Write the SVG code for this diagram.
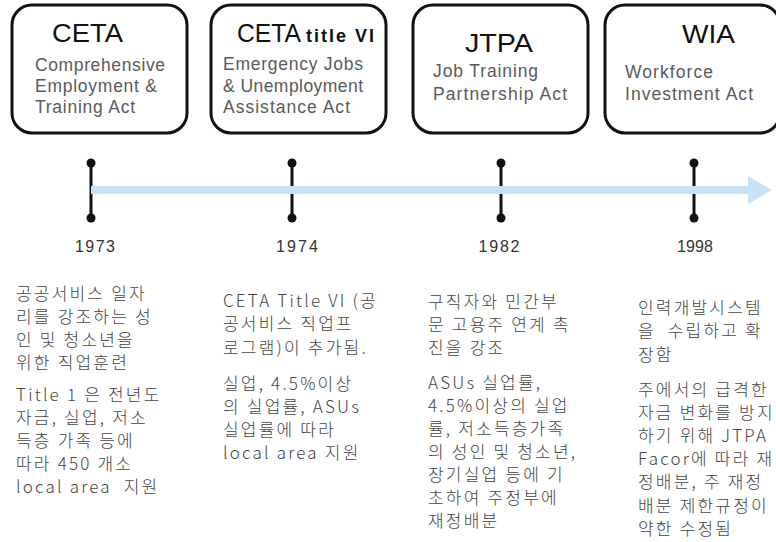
<svg xmlns="http://www.w3.org/2000/svg" width="776" height="542" viewBox="0 0 776 542">
  <style>
    .box { fill: #ffffff; stroke: #111111; stroke-width: 3; }
    .title { font-family: "Liberation Sans", Arial, sans-serif; font-size: 26px; fill: #111111; }
    .title-sm { font-family: "Liberation Sans", Arial, sans-serif; font-size: 18px; font-weight: bold; fill: #111111; }
    .sub { font-family: "Liberation Sans", Arial, sans-serif; font-size: 17.5px; fill: #5a5a5a; }
    .year { font-family: "Liberation Sans", Arial, sans-serif; font-size: 16px; fill: #333333; text-anchor: middle; }
    .desc { font-family: "Noto Sans CJK KR", "Liberation Sans", sans-serif; font-size: 17px; font-weight: 300; fill: #454545; letter-spacing: 2.2px; white-space: pre; }
    .tick { stroke: #111111; stroke-width: 3; }
    .dot { fill: #111111; }
    .bar { fill: #c8e2f7; }
  </style>

  <!-- Act boxes -->
  <g id="node-ceta">
    <rect class="box" x="12" y="5" width="175" height="128" rx="20"/>
    <text class="title" x="52" y="42" textLength="71" lengthAdjust="spacingAndGlyphs">CETA</text>
    <text class="sub" x="35" y="71" textLength="130">Comprehensive</text>
    <text class="sub" x="35" y="92" textLength="122">Employment &amp;</text>
    <text class="sub" x="35" y="113" textLength="100">Training Act</text>
  </g>

  <g id="node-ceta-title-vi">
    <rect class="box" x="211" y="5" width="175" height="128" rx="20"/>
    <text class="title" x="237" y="42" textLength="64" lengthAdjust="spacingAndGlyphs">CETA</text>
    <text class="title-sm" x="306" y="42" textLength="68">title VI</text>
    <text class="sub" x="223" y="70" textLength="140">Emergency Jobs</text>
    <text class="sub" x="223" y="92" textLength="140">&amp; Unemployment</text>
    <text class="sub" x="223" y="113" textLength="127">Assistance Act</text>
  </g>

  <g id="node-jtpa">
    <rect class="box" x="413" y="5" width="175" height="128" rx="20"/>
    <text class="title" x="465" y="52" textLength="68" lengthAdjust="spacingAndGlyphs">JTPA</text>
    <text class="sub" x="433" y="77" textLength="105">Job Training</text>
    <text class="sub" x="433" y="100" textLength="134">Partnership Act</text>
  </g>

  <g id="node-wia">
    <rect class="box" x="605" y="5" width="175" height="128" rx="20"/>
    <text class="title" x="682" y="43" textLength="53" lengthAdjust="spacingAndGlyphs">WIA</text>
    <text class="sub" x="625" y="78" textLength="88">Workforce</text>
    <text class="sub" x="625" y="100" textLength="128">Investment Act</text>
  </g>

  <!-- Timeline: ticks and the arrow running through them -->
  <g id="connectors">
    <g id="ticks">
      <line class="tick" x1="91" y1="163" x2="91" y2="218"/>
      <circle class="dot" cx="91" cy="163" r="4.5"/>
      <circle class="dot" cx="91" cy="218" r="4.5"/>
      <line class="tick" x1="292" y1="163" x2="292" y2="218"/>
      <circle class="dot" cx="292" cy="163" r="4.5"/>
      <circle class="dot" cx="292" cy="218" r="4.5"/>
      <line class="tick" x1="501" y1="163" x2="501" y2="218"/>
      <circle class="dot" cx="501" cy="163" r="4.5"/>
      <circle class="dot" cx="501" cy="218" r="4.5"/>
      <line class="tick" x1="694" y1="163" x2="694" y2="218"/>
      <circle class="dot" cx="694" cy="163" r="4.5"/>
      <circle class="dot" cx="694" cy="218" r="4.5"/>
    </g>
    <path id="timeline-arrow" class="bar" d="M91,186 H748 V176 L772,190 L748,204 V194 H91 Z"/>
  </g>

  <!-- Years -->
  <g id="years">
    <text class="year" x="95" y="252" textLength="40">1973</text>
    <text class="year" x="297" y="252" textLength="42">1974</text>
    <text class="year" x="499" y="252" textLength="41">1982</text>
    <text class="year" x="695" y="252" textLength="36">1998</text>
  </g>

  <!-- Descriptions under each year -->
  <g id="desc-1973">
    <text class="desc" x="16" y="300">공공서비스 일자</text>
    <text class="desc" x="16" y="323">리를 강조하는 성</text>
    <text class="desc" x="16" y="346">인 및 청소년을</text>
    <text class="desc" x="16" y="369">위한 직업훈련</text>
    <text class="desc" x="16" y="401">Title 1 은 전년도</text>
    <text class="desc" x="16" y="424">자금, 실업, 저소</text>
    <text class="desc" x="16" y="447">득층 가족 등에</text>
    <text class="desc" x="16" y="470">따라 450 개소</text>
    <text class="desc" x="16" y="493" xml:space="preserve">local area  지원</text>
  </g>

  <g id="desc-1974">
    <text class="desc" x="223" y="307">CETA Title VI (공</text>
    <text class="desc" x="223" y="330">공서비스 직업프</text>
    <text class="desc" x="223" y="354">로그램)이 추가됨.</text>
    <text class="desc" x="223" y="390">실업, 4.5%이상</text>
    <text class="desc" x="223" y="413">의 실업률, ASUs</text>
    <text class="desc" x="223" y="436">실업률에 따라</text>
    <text class="desc" x="223" y="459">local area 지원</text>
  </g>

  <g id="desc-1982">
    <text class="desc" x="428" y="308">구직자와 민간부</text>
    <text class="desc" x="428" y="331">문 고용주 연계 촉</text>
    <text class="desc" x="428" y="354">진을 강조</text>
    <text class="desc" x="428" y="389">ASUs 실업률,</text>
    <text class="desc" x="428" y="412">4.5%이상의 실업</text>
    <text class="desc" x="428" y="435">률, 저소득층가족</text>
    <text class="desc" x="428" y="458">의 성인 및 청소년,</text>
    <text class="desc" x="428" y="481">장기실업 등에 기</text>
    <text class="desc" x="428" y="504">초하여 주정부에</text>
    <text class="desc" x="428" y="527">재정배분</text>
  </g>

  <g id="desc-1998">
    <text class="desc" x="638" y="314">인력개발시스템</text>
    <text class="desc" x="638" y="337" xml:space="preserve">을  수립하고 확</text>
    <text class="desc" x="638" y="361">장함</text>
    <text class="desc" x="638" y="396">주에서의 급격한</text>
    <text class="desc" x="638" y="419">자금 변화를 방지</text>
    <text class="desc" x="638" y="442">하기 위해 JTPA</text>
    <text class="desc" x="638" y="465">Facor에 따라 재</text>
    <text class="desc" x="638" y="488">정배분, 주 재정</text>
    <text class="desc" x="638" y="512">배분 제한규정이</text>
    <text class="desc" x="638" y="535">약한 수정됨</text>
  </g>
</svg>
